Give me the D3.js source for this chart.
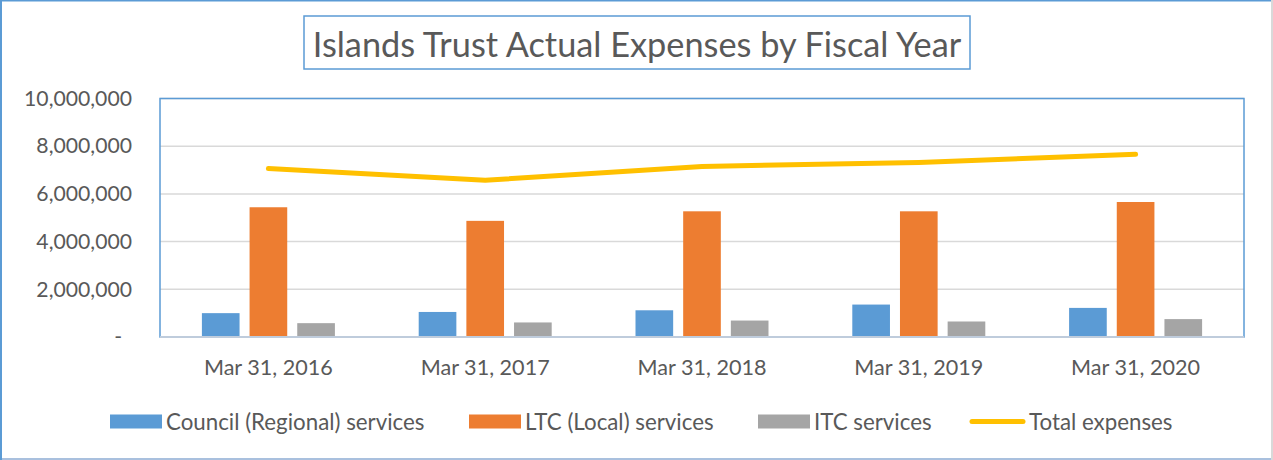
<!DOCTYPE html>
<html>
<head>
<meta charset="utf-8">
<script src="https://cdn.jsdelivr.net/npm/d3@7"></script>
<style>
  body { margin: 0; background: #fff; }
  svg { display: block; font-family: Lato, sans-serif; }
</style>
</head>
<body>
<div id="chart"></div>
<script>
// data
const years = ['Mar 31, 2016', 'Mar 31, 2017', 'Mar 31, 2018', 'Mar 31, 2019', 'Mar 31, 2020'];
const council = [1000000, 1050000, 1120000, 1360000, 1220000];
const ltc = [5440000, 4870000, 5270000, 5270000, 5660000];
const itc = [580000, 610000, 690000, 650000, 750000];
const total = [7060000, 6570000, 7150000, 7320000, 7660000];
const yTicks = [0, 2000000, 4000000, 6000000, 8000000, 10000000];
const seriesNames = ['Council (Regional) services', 'LTC (Local) services', 'ITC services', 'Total expenses'];

const W = 1273, H = 460;
const plot = { left: 160, top: 98.5, right: 1244, bottom: 337 };
const colors = ['#5B9BD5', '#ED7D31', '#A5A5A5', '#FFC000'];
const textColor = '#595959';

const svg = d3.select('#chart').append('svg')
    .attr('width', W)
    .attr('height', H);

// outer frame
svg.append('rect')
    .attr('x', 1).attr('y', 0.5)
    .attr('width', W - 2).attr('height', H - 1.5)
    .attr('fill', '#fff')
    .attr('stroke', '#5B9BD5').attr('stroke-width', 2);
svg.append('line').attr('x1', W - 1).attr('x2', W - 1).attr('y1', 0).attr('y2', H)
    .attr('stroke', '#D9D9D9').attr('stroke-width', 2);
svg.append('line').attr('x1', 2).attr('x2', W - 2).attr('y1', H - 1).attr('y2', H - 1)
    .attr('stroke', '#A9C0DE').attr('stroke-width', 2);

// title box
svg.append('rect')
    .attr('x', 304).attr('y', 16)
    .attr('width', 666).attr('height', 53)
    .attr('fill', '#fff')
    .attr('stroke', '#5B9BD5').attr('stroke-width', 1.5);
svg.append('text')
    .attr('x', 637).attr('y', 43)
    .attr('text-anchor', 'middle')
    .attr('dominant-baseline', 'central')
    .attr('font-size', 34.3)
    .attr('fill', textColor)
    .text('Islands Trust Actual Expenses by Fiscal Year');

// scales
const x = d3.scaleBand()
    .domain(years)
    .range([plot.left, plot.right])
    .padding(0);

const inner = d3.scaleBand()
    .domain([0, 1, 2])
    .range([-66.5, 66.5])
    .paddingInner(0.21);

const y = d3.scaleLinear()
    .domain([0, 10000000])
    .range([plot.bottom, plot.top]);

// gridlines
svg.append('g')
    .selectAll('line')
    .data(yTicks.slice(1))
    .enter()
    .append('line')
    .attr('x1', plot.left).attr('x2', plot.right)
    .attr('y1', d => y(d)).attr('y2', d => y(d))
    .attr('stroke', '#D9D9D9').attr('stroke-width', 1.5);

// y axis labels
const yAxis = d3.axisLeft(y)
    .tickValues(yTicks)
    .tickSize(0)
    .tickPadding(28)
    .tickFormat(d => d === 0 ? '-' : d3.format(',')(d));
const gy = svg.append('g')
    .attr('transform', `translate(${plot.left},0)`)
    .call(yAxis);
gy.select('.domain').remove();
gy.selectAll('text')
    .attr('font-size', 21.2)
    .attr('font-family', 'Lato, sans-serif')
    .attr('fill', textColor);
gy.selectAll('.tick').filter(d => d === 0).select('text').attr('dx', -10);

// bars
const barData = [council, ltc, itc];
const groups = svg.append('g')
    .selectAll('g')
    .data(barData)
    .enter()
    .append('g')
    .attr('fill', (d, i) => colors[i]);

groups.selectAll('rect')
    .data((d, si) => d.map((v, i) => ({ v: v, i: i, si: si })))
    .enter()
    .append('rect')
    .attr('x', d => x(years[d.i]) + x.bandwidth() / 2 + inner(d.si))
    .attr('width', inner.bandwidth())
    .attr('y', d => y(d.v))
    .attr('height', d => y(0) - y(d.v));

// plot area border
svg.append('rect')
    .attr('x', plot.left).attr('y', plot.top)
    .attr('width', plot.right - plot.left).attr('height', plot.bottom - plot.top)
    .attr('fill', 'none')
    .attr('stroke', '#5B9BD5').attr('stroke-width', 1.5);
svg.append('line')
    .attr('x1', plot.left).attr('x2', plot.right)
    .attr('y1', plot.bottom).attr('y2', plot.bottom)
    .attr('stroke', '#BFCCDC').attr('stroke-width', 2);

// total line
const line = d3.line()
    .x((d, i) => x(years[i]) + x.bandwidth() / 2)
    .y(d => y(d));
svg.append('path')
    .datum(total)
    .attr('d', line)
    .attr('fill', 'none')
    .attr('stroke', colors[3])
    .attr('stroke-width', 5)
    .attr('stroke-linecap', 'round')
    .attr('stroke-linejoin', 'round');

// x axis labels
const xAxis = d3.axisBottom(x).tickSize(0).tickPadding(23);
const gx = svg.append('g')
    .attr('transform', `translate(0,${plot.bottom})`)
    .call(xAxis);
gx.select('.domain').remove();
gx.selectAll('text')
    .attr('font-size', 21.6)
    .attr('font-family', 'Lato, sans-serif')
    .attr('fill', textColor);

// legend
const legendX = [110, 469, 758, 970];
const legend = svg.append('g')
    .selectAll('g')
    .data(seriesNames)
    .enter()
    .append('g')
    .attr('transform', (d, i) => `translate(${legendX[i]},421.5)`);

legend.filter((d, i) => i < 3)
    .append('rect')
    .attr('x', 0).attr('y', -7)
    .attr('width', 52).attr('height', 14)
    .attr('fill', (d, i) => colors[i]);
legend.filter((d, i) => i === 3)
    .append('line')
    .attr('x1', 2).attr('x2', 53)
    .attr('y1', 0).attr('y2', 0)
    .attr('stroke', colors[3]).attr('stroke-width', 5)
    .attr('stroke-linecap', 'round');
legend.append('text')
    .attr('x', (d, i) => i === 3 ? 59 : 56)
    .attr('y', 0)
    .attr('dominant-baseline', 'central')
    .attr('font-size', 22.3)
    .attr('fill', textColor)
    .text(d => d);
</script>
</body>
</html>
